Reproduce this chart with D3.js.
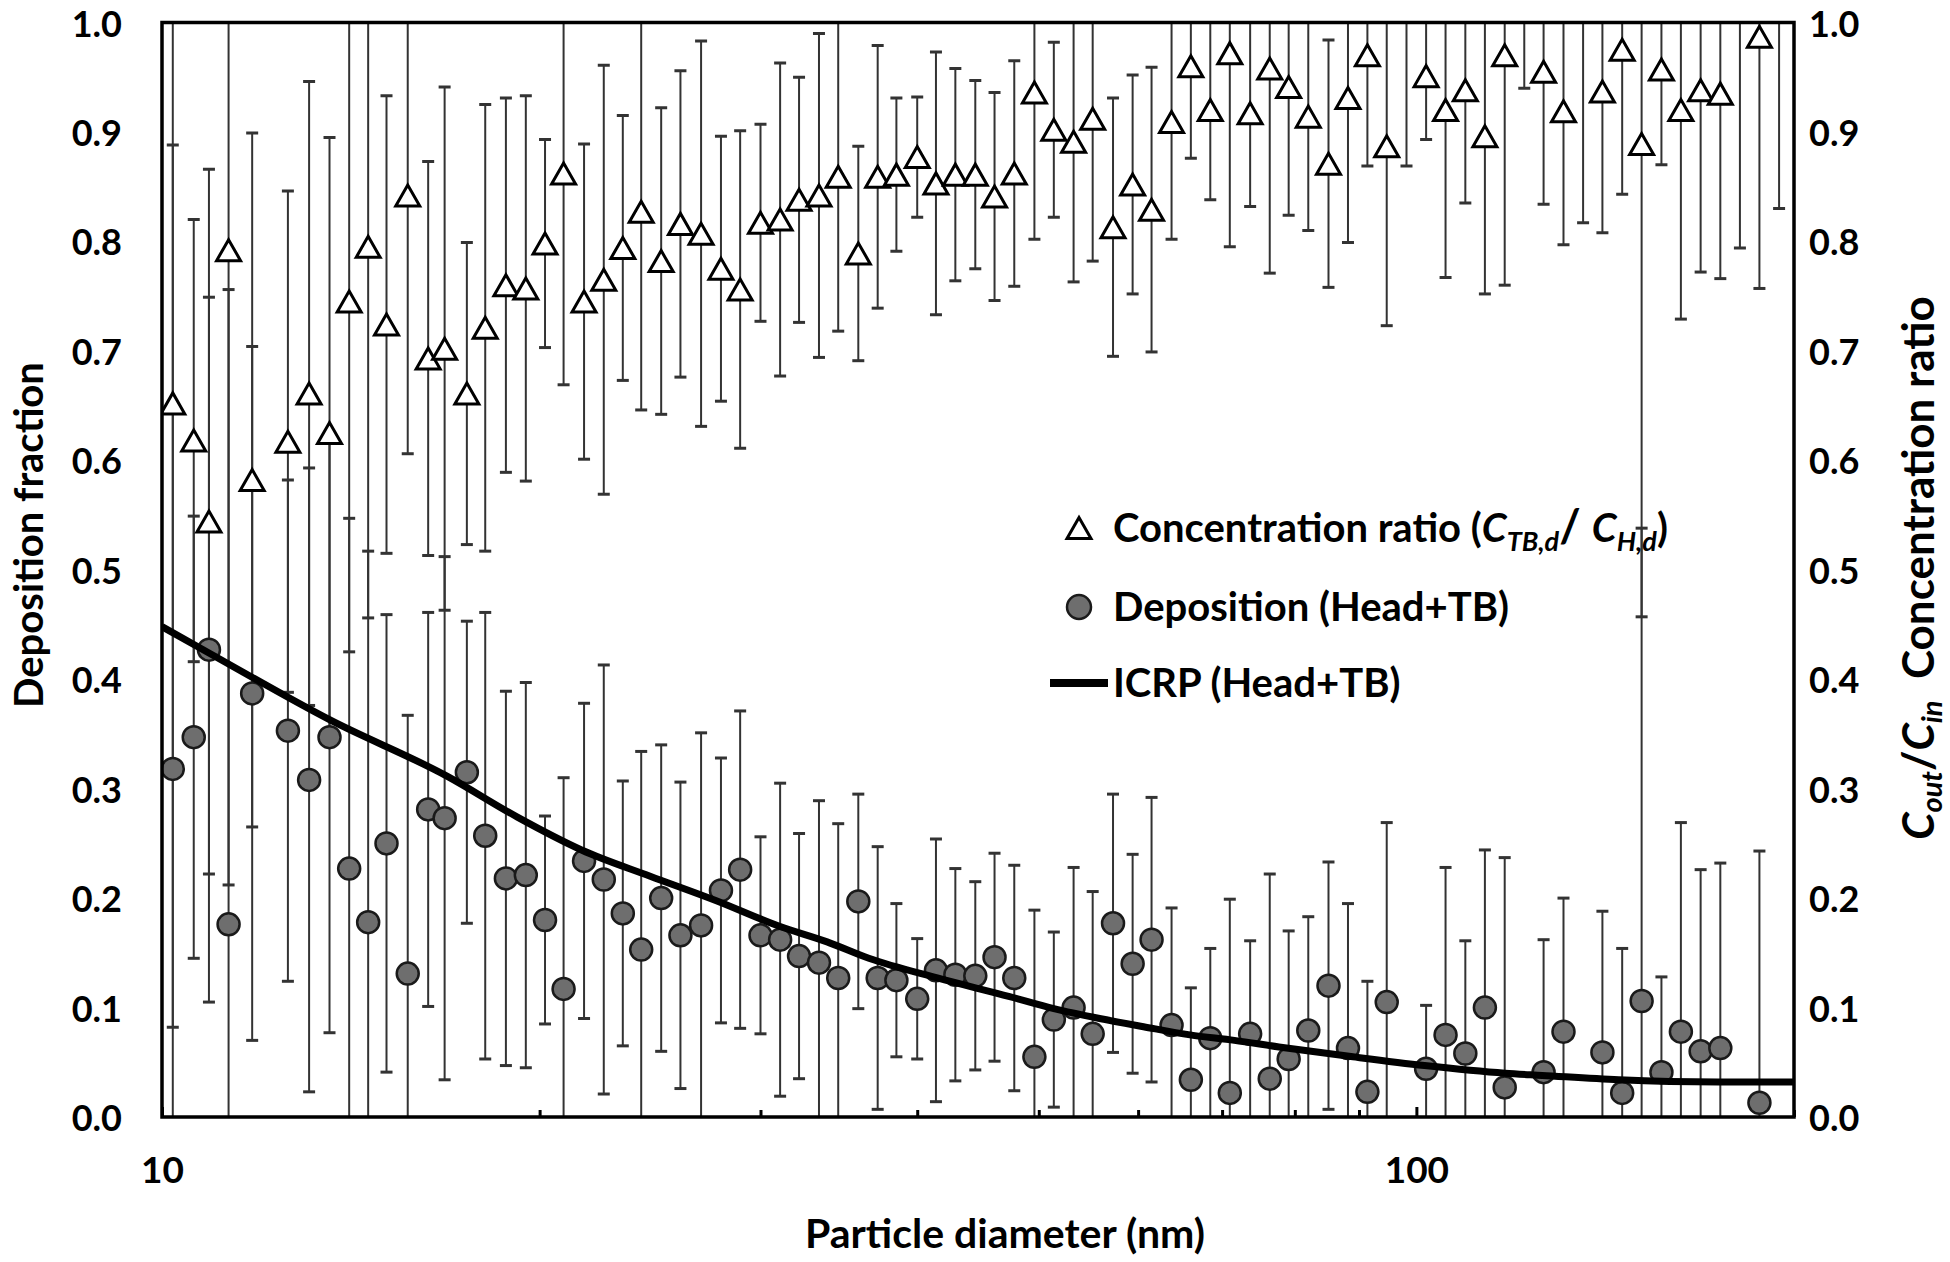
<!DOCTYPE html>
<html><head><meta charset="utf-8">
<script src="https://cdn.jsdelivr.net/npm/d3@7"></script>
<style>
body{margin:0;background:#fff;}
svg text{font-family:Lato,"Open Sans",sans-serif;font-weight:700;fill:#000;}
</style></head><body>
<svg id="chart" width="1950" height="1262"></svg>
<script>
// ---- data ----
const diameters = [10.2,10.6,10.9,11.3,11.8,12.6,13.1,13.6,14.1,14.6,15.1,15.7,16.3,16.8,17.5,18.1,18.8,19.5,20.2,20.9,21.7,22.5,23.3,24.1,25.0,25.9,26.9,27.9,28.9,30.0,31.1,32.2,33.4,34.6,35.9,37.2,38.5,40.0,41.4,42.9,44.5,46.1,47.8,49.6,51.4,53.3,55.2,57.3,59.4,61.5,63.8,66.1,68.5,71.0,73.7,76.4,79.1,82.0,85.1,88.2,91.4,94.7,98.2,101.8,105.5,109.4,113.4,117.6,121.9,126.3,131.0,135.8,140.7,145.9,151.2,156.8,162.5,168.5,174.7,181.1,187.7,194.6];
const concRatio = [0.652,0.618,0.544,0.792,0.582,0.617,0.661,0.625,0.745,0.795,0.724,0.842,0.693,0.702,0.661,0.721,0.760,0.757,0.798,0.862,0.745,0.765,0.794,0.827,0.782,0.816,0.807,0.775,0.756,0.817,0.820,0.838,0.842,0.859,0.789,0.859,0.861,0.877,0.853,0.861,0.861,0.841,0.862,0.936,0.902,0.891,0.912,0.813,0.852,0.829,0.909,0.960,0.920,0.972,0.917,0.958,0.941,0.914,0.871,0.931,0.970,0.887,1.020,0.951,0.920,0.938,0.896,0.970,1.020,0.955,0.919,1.017,0.937,0.975,0.889,0.957,0.920,0.938,0.935,1.014,0.987,1.020];
const deposition = [0.318,0.347,0.427,0.176,0.387,0.353,0.308,0.347,0.227,0.178,0.250,0.131,0.281,0.273,0.315,0.257,0.218,0.221,0.180,0.117,0.234,0.217,0.186,0.153,0.200,0.166,0.175,0.207,0.226,0.166,0.162,0.147,0.141,0.127,0.197,0.127,0.125,0.108,0.134,0.130,0.129,0.146,0.127,0.055,0.089,0.100,0.076,0.177,0.140,0.162,0.084,0.034,0.072,0.022,0.076,0.035,0.053,0.079,0.120,0.063,0.023,0.105,-0.160,0.044,0.075,0.058,0.100,0.027,-0.100,0.041,0.078,-0.210,0.059,0.022,0.106,0.041,0.078,0.060,0.063,-0.230,0.013,-0.200];
const errorBar = [0.570,0.202,0.322,0.580,0.317,0.229,0.285,0.270,0.320,0.339,0.209,0.236,0.180,0.239,0.138,0.204,0.171,0.176,0.095,0.193,0.144,0.196,0.121,0.181,0.140,0.140,0.176,0.121,0.145,0.090,0.143,0.112,0.148,0.141,0.098,0.120,0.070,0.055,0.120,0.097,0.086,0.095,0.103,0.134,0.080,0.128,0.130,0.118,0.100,0.130,0.107,0.084,0.082,0.177,0.085,0.187,0.117,0.104,0.113,0.132,0.101,0.164,0.151,0.058,0.153,0.103,0.144,0.210,0.080,0.121,0.122,0.200,0.129,0.132,0.432,0.087,0.191,0.166,0.169,0.220,0.230,0.190];
const icrpDiameter = [10,10.9,13.6,16.9,19.2,21.6,24.5,27.6,31.1,33.9,36.6,41.5,47.4,51.4,55.9,60.6,66,71.6,77.7,89,101.5,117.7,126,145,174,200];
const icrpDeposition = [0.448,0.424,0.363,0.311,0.274,0.244,0.220,0.198,0.174,0.160,0.145,0.127,0.110,0.099,0.090,0.0825,0.075,0.070,0.064,0.055,0.047,0.040,0.038,0.034,0.032,0.032];
const yTicks = [0,0.1,0.2,0.3,0.4,0.5,0.6,0.7,0.8,0.9,1.0];
const xMajorTicks = [10,100];
const xMinorTicks = [20,30,40,50,60,70,80,90,200];

// ---- chart ----
const svg = d3.select('#chart');
const L=162, R=1794, T=22.5, B=1117;
const x = d3.scaleLog().domain([10,200]).range([L,R]);
const y = d3.scaleLinear().domain([0,1]).range([B,T]);

svg.append('defs').append('clipPath').attr('id','plotClip')
  .append('rect').attr('x',L).attr('y',T).attr('width',R-L).attr('height',B-T);

const pts = diameters.map((d,i)=>({d, r:concRatio[i], p:deposition[i], e:errorBar[i]}));
const plot = svg.append('g').attr('clip-path','url(#plotClip)');

function errorBars(key){
  const gb = plot.append('g').selectAll('g').data(pts).join('g');
  gb.append('line')
    .attr('x1',d=>x(d.d)).attr('x2',d=>x(d.d))
    .attr('y1',d=>y(d[key]-d.e)).attr('y2',d=>y(d[key]+d.e))
    .attr('stroke','#333').attr('stroke-width',2);
  gb.selectAll('line.cap').data(d=>[{d:d.d,v:d[key]-d.e},{d:d.d,v:d[key]+d.e}]).join('line')
    .attr('class','cap')
    .attr('x1',c=>x(c.d)-6).attr('x2',c=>x(c.d)+6)
    .attr('y1',c=>y(c.v)).attr('y2',c=>y(c.v))
    .attr('stroke','#333').attr('stroke-width',3);
}
errorBars('r');
errorBars('p');

const triPath = 'M-12,10.5L0,-10.5L12,10.5Z';
plot.append('g').selectAll('path').data(pts).join('path')
  .attr('d',triPath)
  .attr('transform',d=>`translate(${x(d.d)},${y(d.r)})`)
  .attr('fill','#fff').attr('stroke','#000').attr('stroke-width',3).attr('stroke-linejoin','miter');

plot.append('g').selectAll('circle').data(pts).join('circle')
  .attr('cx',d=>x(d.d)).attr('cy',d=>y(d.p)).attr('r',11)
  .attr('fill','#6e6e6e').attr('stroke','#1a1a1a').attr('stroke-width',2.5);

const line = d3.line().x(d=>x(d[0])).y(d=>y(d[1])).curve(d3.curveMonotoneX);
plot.append('path').datum(icrpDiameter.map((d,i)=>[d,icrpDeposition[i]]))
  .attr('d',line).attr('fill','none').attr('stroke','#000').attr('stroke-width',7);

// axes
const xMinor = svg.append('g').attr('transform',`translate(0,${B})`)
  .call(d3.axisBottom(x).tickValues(xMinorTicks).tickSize(-7).tickFormat(''));
const xMajor = svg.append('g').attr('transform',`translate(0,${B})`)
  .call(d3.axisBottom(x).tickValues(xMajorTicks).tickSize(-10).tickPadding(40).tickFormat(d3.format('d')));
[xMinor,xMajor].forEach(a=>{a.select('.domain').remove(); a.selectAll('line').attr('stroke','#000').attr('stroke-width',3);});
xMajor.selectAll('text').attr('font-size',37).attr('font-family','Lato').attr('fill','#000');

const yl = svg.append('g').attr('transform',`translate(${L},2)`)
  .call(d3.axisLeft(y).tickValues(yTicks).tickSize(0).tickPadding(40).tickFormat(d3.format('.1f')));
const yr = svg.append('g').attr('transform',`translate(${R},2)`)
  .call(d3.axisRight(y).tickValues(yTicks).tickSize(0).tickPadding(15).tickFormat(d3.format('.1f')));
[yl,yr].forEach(a=>{a.select('.domain').remove(); a.selectAll('text').attr('font-size',36).attr('font-family','Lato').attr('fill','#000');});

svg.append('rect').attr('x',L).attr('y',T).attr('width',R-L).attr('height',B-T)
  .attr('fill','none').attr('stroke','#000').attr('stroke-width',3.5);

// titles
svg.append('text').attr('x',1005).attr('y',1248).attr('text-anchor','middle').attr('font-size',41)
  .text('Particle diameter (nm)');
svg.append('text').attr('transform','translate(43,535) rotate(-90)').attr('text-anchor','middle').attr('font-size',40)
  .text('Deposition fraction');
const rt = svg.append('text').attr('transform','translate(1934,568) rotate(-90)').attr('text-anchor','middle').attr('font-size',44);
rt.append('tspan').attr('font-style','italic').text('C');
rt.append('tspan').attr('font-style','italic').attr('font-size',29).attr('dy',8).text('out');
rt.append('tspan').attr('dy',-8).text('/');
rt.append('tspan').attr('font-style','italic').text('C');
rt.append('tspan').attr('font-style','italic').attr('font-size',29).attr('dy',8).text('in');
rt.append('tspan').attr('dy',-8).text('\u00a0\u00a0Concentration ratio');

// legend
const lg = svg.append('g');
lg.append('path').attr('d',triPath).attr('transform','translate(1079,528)')
  .attr('fill','#fff').attr('stroke','#000').attr('stroke-width',3);
lg.append('circle').attr('cx',1079).attr('cy',607).attr('r',12)
  .attr('fill','#6e6e6e').attr('stroke','#1a1a1a').attr('stroke-width',2.5);
lg.append('line').attr('x1',1050).attr('x2',1108).attr('y1',683).attr('y2',683)
  .attr('stroke','#000').attr('stroke-width',8);
const t1 = lg.append('text').attr('x',1113).attr('y',542).attr('font-size',40);
t1.append('tspan').text('Concentration ratio (');
t1.append('tspan').attr('font-style','italic').text('C');
t1.append('tspan').attr('font-style','italic').attr('font-size',27).attr('dy',9).text('TB,d');
t1.append('tspan').attr('dy',-9).attr('font-size',46).text('/ ');
t1.append('tspan').attr('font-style','italic').text('C');
t1.append('tspan').attr('font-style','italic').attr('font-size',27).attr('dy',9).text('H,d');
t1.append('tspan').attr('dy',-9).text(')');
lg.append('text').attr('x',1113).attr('y',621).attr('font-size',40).text('Deposition (Head+TB)');
lg.append('text').attr('x',1113).attr('y',697).attr('font-size',40).text('ICRP (Head+TB)');
</script>
</body></html>
